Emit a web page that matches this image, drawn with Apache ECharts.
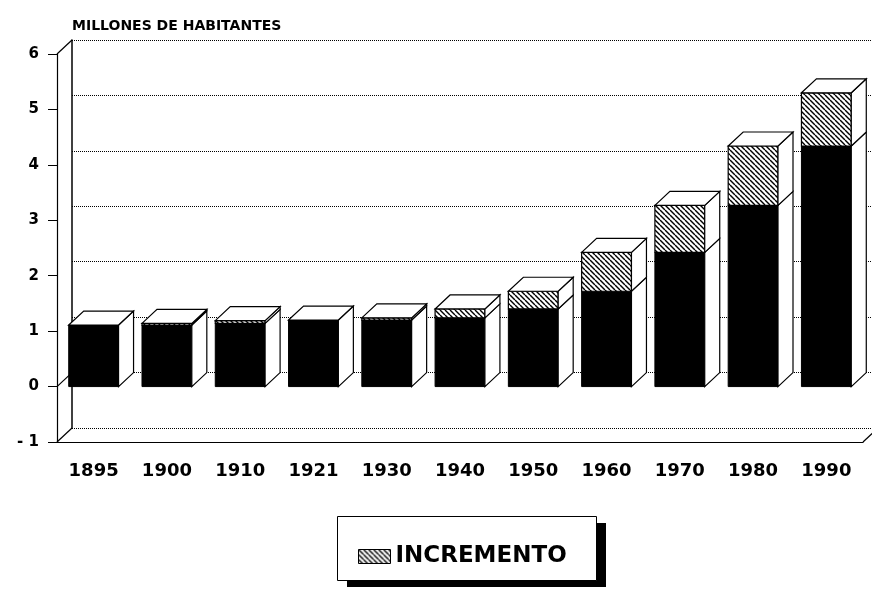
<!DOCTYPE html>
<html>
<head>
<meta charset="utf-8">
<script src="https://cdn.jsdelivr.net/npm/echarts@6/dist/echarts.min.js"></script>
<style>
  html, body { margin: 0; background: #fff; }
  #chart { width: 872px; height: 593px; }
</style>
</head>
<body>
<div id="chart"></div>
<script>
// datos (millones de habitantes)
const anos = ['1895', '1900', '1910', '1921', '1930', '1940', '1950', '1960', '1970', '1980', '1990']
const base = [1.11, 1.11, 1.14, 1.20, 1.20, 1.24, 1.40, 1.72, 2.42, 3.27, 4.34]
const incremento = [0, 0.03, 0.05, 0, 0.04, 0.16, 0.32, 0.70, 0.85, 1.07, 0.96]
const yMin = -1
const yMax = 6
const nivelesPared = [-1, 0, 6]

// profundidad del efecto 3D (px)
const DX = 15
const DY = 14
const fuente = 'DejaVu Sans'

// trama rayada para el incremento
function rayado() {
  const c = document.createElement('canvas')
  c.width = 5
  c.height = 5
  const g = c.getContext('2d')
  g.fillStyle = '#fff'
  g.fillRect(0, 0, 5, 5)
  g.strokeStyle = '#000'
  g.lineWidth = 1.4
  for (let k = -1; k <= 1; k++) {
    g.beginPath()
    g.moveTo(k * 5, 0)
    g.lineTo(k * 5 + 5, 5)
    g.stroke()
  }
  return c
}
const trama = { image: rayado(), repeat: 'repeat' }

const datos = anos.map((a, i) => [i, base[i], incremento[i]])

function lado(x, yTop, yBot) {
  return [[x, yTop], [x + DX, yTop - DY], [x + DX, yBot - DY], [x, yBot]]
}
function tapa(x0, x1, y) {
  return [[x0, y], [x0 + DX, y - DY], [x1 + DX, y - DY], [x1, y]]
}
const borde = { stroke: '#000', lineWidth: 1.2 }

function dibujaBase(params, api) {
  const i = api.value(0), b = api.value(1), inc = api.value(2)
  const p0 = api.coord([i, 0])
  const p1 = api.coord([i, b])
  const w = api.size([1, 0])[0] * 0.68
  const x0 = p0[0] - w / 2, x1 = p0[0] + w / 2
  const children = [
    { type: 'rect', shape: { x: x0, y: p1[1], width: w, height: p0[1] - p1[1] }, style: { fill: '#000', stroke: '#000', lineWidth: 1 } },
    { type: 'polygon', shape: { points: lado(x1, p1[1], p0[1]) }, style: Object.assign({ fill: '#fff' }, borde) }
  ]
  if (inc <= 0) {
    children.push({ type: 'polygon', shape: { points: tapa(x0, x1, p1[1]) }, style: Object.assign({ fill: '#fff' }, borde) })
  }
  return { type: 'group', children }
}

function dibujaIncremento(params, api) {
  const i = api.value(0), b = api.value(1), inc = api.value(2)
  if (inc <= 0) return { type: 'group', children: [] }
  const p0 = api.coord([i, 0])
  const p1 = api.coord([i, b])
  const p2 = api.coord([i, b + inc])
  const w = api.size([1, 0])[0] * 0.68
  const x0 = p0[0] - w / 2, x1 = p0[0] + w / 2
  return {
    type: 'group',
    children: [
      { type: 'rect', shape: { x: x0, y: p2[1], width: w, height: p1[1] - p2[1] }, style: Object.assign({ fill: trama }, borde) },
      { type: 'polygon', shape: { points: lado(x1, p2[1], p1[1]) }, style: Object.assign({ fill: '#fff' }, borde) },
      { type: 'polygon', shape: { points: tapa(x0, x1, p2[1]) }, style: Object.assign({ fill: '#fff' }, borde) }
    ]
  }
}

// diagonales de la pared lateral y del suelo
function dibujaMarco(params, api) {
  const v = api.value(1)
  const banda = api.size([1, 0])[0]
  const p = api.coord([0, v])
  const x = p[0] - banda / 2
  const children = [
    { type: 'line', shape: { x1: x, y1: p[1], x2: x + DX, y2: p[1] - DY }, style: { stroke: '#000', lineWidth: 1.2 } }
  ]
  if (v === yMin) {
    const q = api.coord([anos.length - 1, v])
    const xr = q[0] + banda / 2
    children.push({ type: 'line', shape: { x1: xr, y1: q[1], x2: xr + DX, y2: q[1] - DY }, style: { stroke: '#000', lineWidth: 1.2 } })
  }
  return { type: 'group', children }
}

let myChart = echarts.init(document.getElementById('chart'))

let opt = {
  backgroundColor: '#fff',
  animation: false,
  title: {
    text: 'MILLONES DE HABITANTES',
    left: 67,
    top: 14,
    textStyle: { fontFamily: fuente, fontWeight: 'bold', fontSize: 14, color: '#000' }
  },
  // caja de la leyenda con sombra
  graphic: [
    { type: 'rect', left: 347, top: 523, shape: { width: 259, height: 64 }, style: { fill: '#000' }, z: 0, silent: true },
    { type: 'rect', left: 337, top: 516, shape: { width: 259, height: 64 }, style: { fill: '#fff', stroke: '#000', lineWidth: 1 }, z: 1, silent: true }
  ],
  legend: {
    data: [{ name: 'INCREMENTO', itemStyle: { color: trama, borderColor: '#000', borderWidth: 1 } }],
    left: 337,
    top: 516,
    padding: [29, 30, 14, 21],
    itemWidth: 32,
    itemHeight: 14,
    icon: 'rect',
    z: 10,
    selectedMode: false,
    textStyle: { fontFamily: fuente, fontWeight: 'bold', fontSize: 23, color: '#000' }
  },
  grid: [
    { left: 57, top: 54, width: 806, height: 388 },
    { left: 72, top: 40, width: 806, height: 388 }
  ],
  xAxis: [
    {
      type: 'category',
      gridIndex: 0,
      data: anos,
      axisLine: { onZero: false, lineStyle: { color: '#000', width: 1.2 } },
      axisTick: { alignWithLabel: true, length: 8, lineStyle: { color: '#000' } },
      axisLabel: { margin: 20, fontFamily: fuente, fontWeight: 'bold', fontSize: 18, color: '#000' },
      splitLine: { show: false }
    },
    { type: 'value', gridIndex: 1, show: false, min: 0, max: 1 }
  ],
  yAxis: [
    {
      type: 'value',
      gridIndex: 0,
      min: yMin,
      max: yMax,
      interval: 1,
      axisLine: { show: true, lineStyle: { color: '#000', width: 1.2 } },
      axisTick: { show: true, length: 9, lineStyle: { color: '#000' } },
      axisLabel: {
        margin: 18,
        fontFamily: fuente,
        fontWeight: 'bold',
        fontSize: 15,
        color: '#000',
        formatter: v => v < 0 ? '- ' + (-v) : String(v)
      },
      splitLine: { show: false }
    },
    {
      type: 'value',
      gridIndex: 1,
      min: yMin,
      max: yMax,
      interval: 1,
      axisLine: { show: true, lineStyle: { color: '#000', width: 1.5 } },
      axisTick: { show: false },
      axisLabel: { show: false },
      splitLine: { show: true, lineStyle: { color: '#000', width: 1, type: 'dotted' } }
    }
  ],
  series: [
    {
      name: 'marco',
      type: 'custom',
      xAxisIndex: 0,
      yAxisIndex: 0,
      silent: true,
      renderItem: dibujaMarco,
      data: nivelesPared.map(v => [0, v]),
      z: 1
    },
    {
      name: 'POBLACION',
      type: 'custom',
      xAxisIndex: 0,
      yAxisIndex: 0,
      silent: true,
      renderItem: dibujaBase,
      itemStyle: { color: '#000' },
      data: datos,
      z: 3
    },
    {
      name: 'INCREMENTO',
      type: 'custom',
      xAxisIndex: 0,
      yAxisIndex: 0,
      silent: true,
      renderItem: dibujaIncremento,
      itemStyle: { color: trama },
      data: datos,
      z: 4
    }
  ]
}

myChart.setOption(opt)
</script>
</body>
</html>
